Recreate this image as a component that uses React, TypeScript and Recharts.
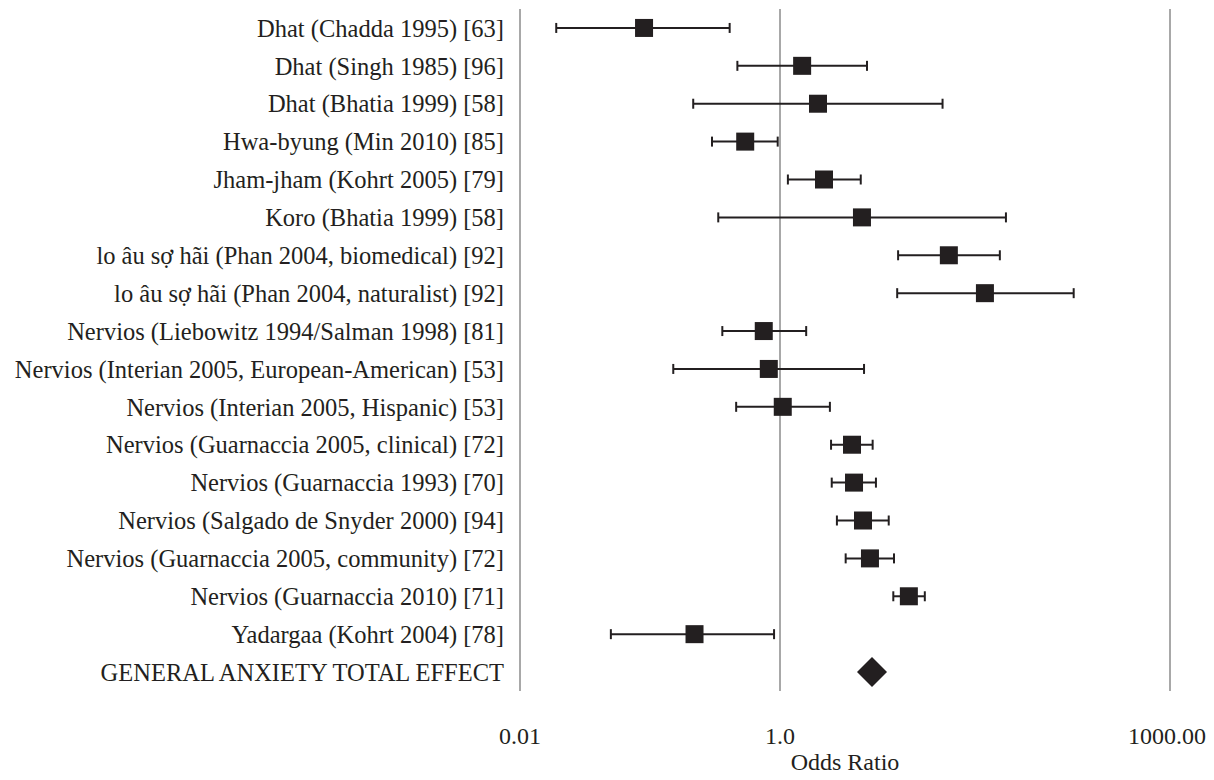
import { CartesianGrid, ErrorBar, Scatter, ScatterChart, XAxis, YAxis } from "recharts";

// study labels, top to bottom
const studies = [
  "Dhat (Chadda 1995) [63]",
  "Dhat (Singh 1985) [96]",
  "Dhat (Bhatia 1999) [58]",
  "Hwa-byung (Min 2010) [85]",
  "Jham-jham (Kohrt 2005) [79]",
  "Koro (Bhatia 1999) [58]",
  "lo âu sợ hãi (Phan 2004, biomedical) [92]",
  "lo âu sợ hãi (Phan 2004, naturalist) [92]",
  "Nervios (Liebowitz 1994/Salman 1998) [81]",
  "Nervios (Interian 2005, European-American) [53]",
  "Nervios (Interian 2005, Hispanic) [53]",
  "Nervios (Guarnaccia 2005, clinical) [72]",
  "Nervios (Guarnaccia 1993) [70]",
  "Nervios (Salgado de Snyder 2000) [94]",
  "Nervios (Guarnaccia 2005, community) [72]",
  "Nervios (Guarnaccia 2010) [71]",
  "Yadargaa (Kohrt 2004) [78]",
];
const oddsRatios = [0.09, 1.48, 1.96, 0.54, 2.18, 4.27, 19.9, 37.7, 0.75, 0.82, 1.05, 3.58, 3.71, 4.35, 4.92, 9.8, 0.22];
const ciLower = [0.019, 0.47, 0.215, 0.3, 1.15, 0.335, 8.1, 7.97, 0.36, 0.151, 0.46, 2.47, 2.5, 2.74, 3.2, 7.44, 0.05];
const ciUpper = [0.41, 4.67, 17.8, 0.96, 4.18, 54.7, 49.1, 181.6, 1.59, 4.43, 2.42, 5.16, 5.47, 6.86, 7.53, 13.0, 0.9];

const totalLabel = "GENERAL ANXIETY TOTAL EFFECT";
const totalOR = 5.1;

const xTicks = [0.01, 1, 1000];
const xTickLabels: Record<number, string> = { 0.01: "0.01", 1: "1.0", 1000: "1000.00" };

const rowLabels = [...studies, totalLabel];
const rowTicks = rowLabels.map((_, i) => i + 1);

const studyData = studies.map((name, i) => ({
  name,
  row: i + 1,
  or: oddsRatios[i],
  err: [oddsRatios[i] - ciLower[i], ciUpper[i] - oddsRatios[i]],
}));
const totalData = [{ name: totalLabel, row: rowLabels.length, or: totalOR }];

const INK = "#231f20";
const FONT = "'Liberation Serif', 'Times New Roman', serif";

const Square = (props: any) => {
  const { cx, cy } = props;
  return <rect x={cx - 9} y={cy - 9} width={18} height={18} fill={INK} />;
};

const Diamond = (props: any) => {
  const { cx, cy } = props;
  const r = 15;
  return <polygon points={`${cx},${cy - r} ${cx + r},${cy} ${cx},${cy + r} ${cx - r},${cy}`} fill={INK} />;
};

export default function App() {
  return (
    <div style={{ fontFamily: FONT }}>
      <ScatterChart width={1198} height={770} margin={{ top: 1, right: 36, bottom: 0, left: 0 }}>
        <CartesianGrid horizontal={false} stroke="#a8a8a8" strokeWidth={2} />
        <XAxis
          type="number"
          dataKey="or"
          scale="log"
          domain={[0.01, 1000]}
          ticks={xTicks}
          allowDataOverflow
          axisLine={false}
          tickLine={false}
          tickSize={0}
          tickMargin={36}
          height={87}
          tickFormatter={(v: number) => xTickLabels[v] ?? String(v)}
          tick={{ fill: INK, fontSize: 24, fontFamily: FONT }}
          label={{ value: "Odds Ratio", position: "insideBottom", offset: 8, fill: INK, fontSize: 24, fontFamily: FONT }}
        />
        <YAxis
          type="number"
          dataKey="row"
          domain={[0.5, rowLabels.length + 0.5]}
          ticks={rowTicks}
          reversed
          interval={0}
          width={512}
          axisLine={false}
          tickLine={false}
          tickSize={0}
          tickMargin={16}
          tickFormatter={(v: number) => rowLabels[v - 1] ?? ""}
          tick={{ fill: INK, fontSize: 24.5, fontFamily: FONT }}
        />
        <Scatter data={studyData} shape={<Square />} isAnimationActive={false}>
          <ErrorBar dataKey="err" direction="x" width={5} stroke={INK} strokeWidth={2} />
        </Scatter>
        <Scatter data={totalData} shape={<Diamond />} isAnimationActive={false} />
      </ScatterChart>
    </div>
  );
}
